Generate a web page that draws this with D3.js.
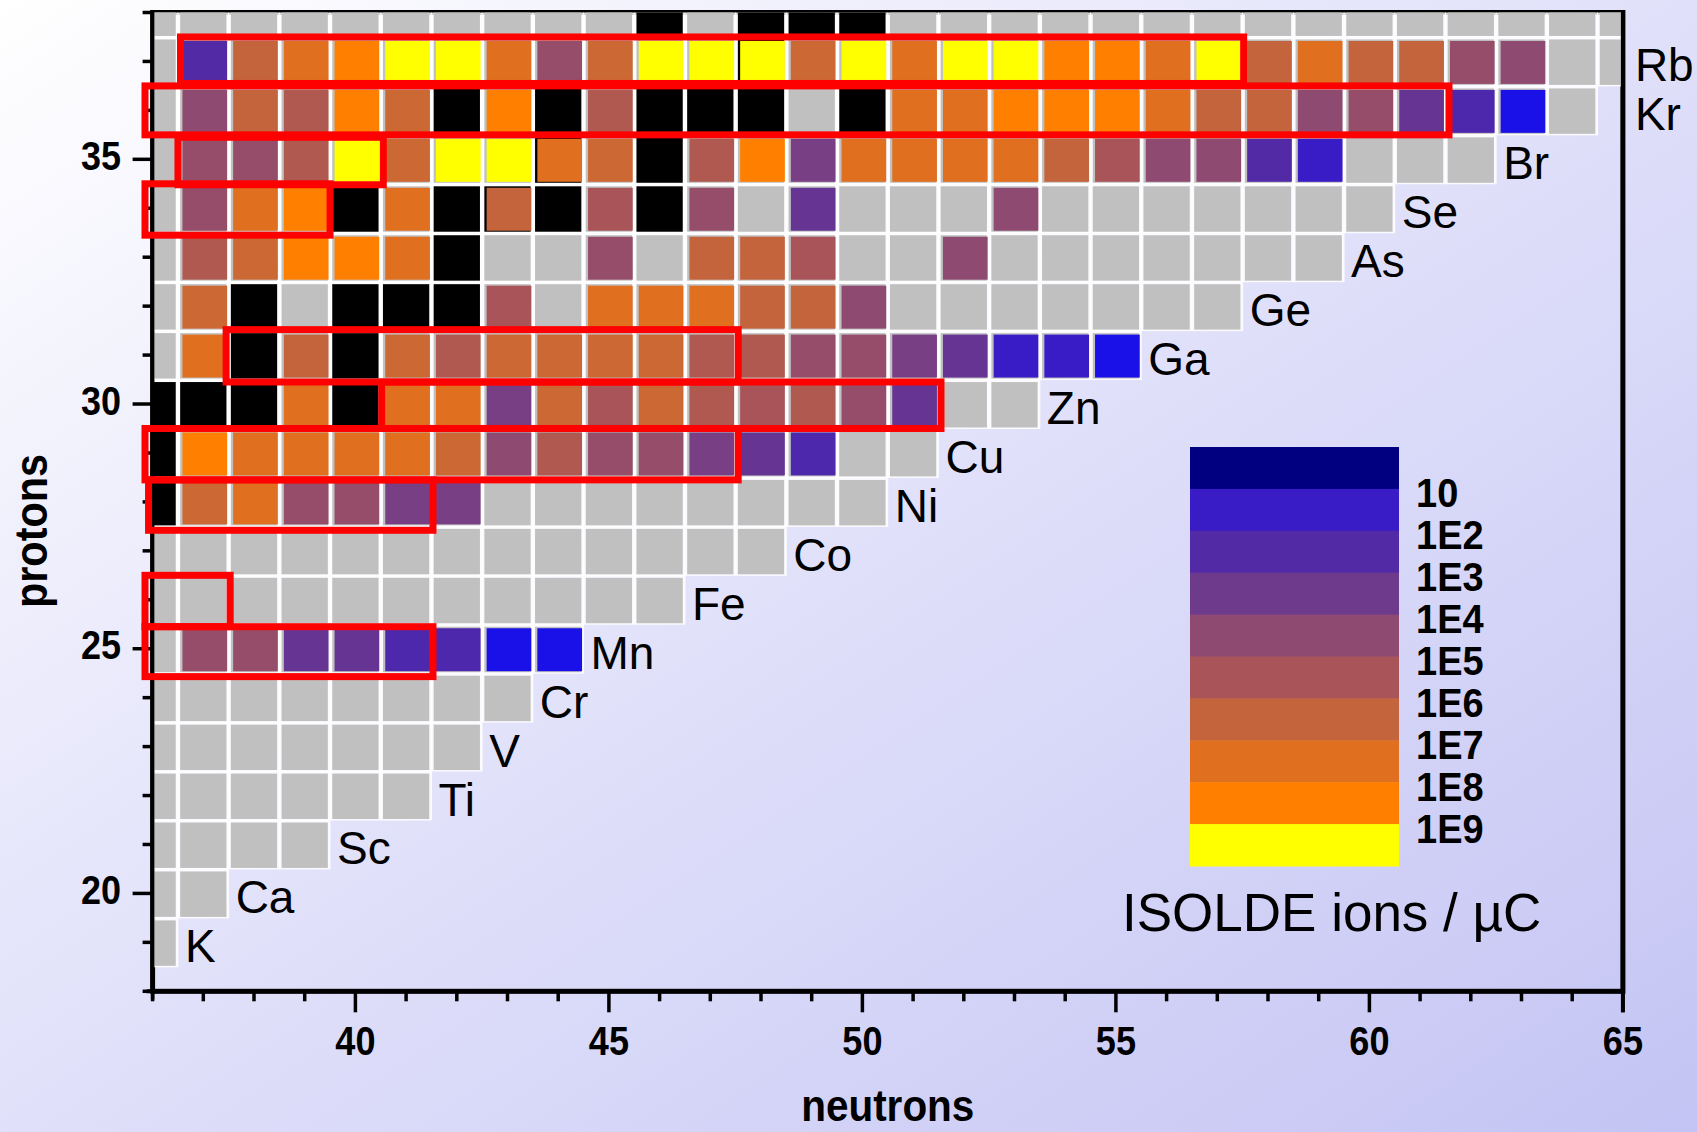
<!DOCTYPE html>
<html lang="en">
<head>
<meta charset="utf-8">
<title>ISOLDE yields</title>
<script src="https://cdn.jsdelivr.net/npm/d3@7"></script>
<style>
  html, body { margin: 0; padding: 0; }
  body { width: 1697px; height: 1132px; overflow: hidden; }
  text { font-family: "Liberation Sans", Arial, sans-serif; }
</style>
</head>
<body>
<script>

// rows of the chart, Z = 19 (K) up to Z = 38 (Sr)
var firstZ = 19;
var symbols = ["K","Ca","Sc","Ti","V","Cr","Mn","Fe","Co","Ni","Cu","Zn","Ga","Ge","As","Se","Br","Kr","Rb","Sr"];
// every row starts at N = 36, this is the last neutron number of each row
var lastN = [36,37,39,41,42,43,44,46,48,50,51,53,55,57,59,60,62,64,65,65];

// stable isotopes as [Z, N]
var stable = [
	[38,46],[38,48],[38,49],[38,50],[37,48],
	[36,42],[36,44],[36,46],[36,47],[36,48],[36,50],
	[35,44],[35,46],
	[34,40],[34,42],[34,43],[34,44],[34,46],
	[33,42],
	[32,38],[32,40],[32,41],[32,42],
	[31,38],[31,40],
	[30,36],[30,37],[30,38],[30,40],
	[29,36],[28,36]
];

// log10(ISOLDE ions / uC), one list per row starting at N = 36, null = no yield
var yieldRows = [
	[], // K
	[], // Ca
	[], // Sc
	[], // Ti
	[], // V
	[], // Cr
	[null,4.8,4.8,3.2,3.2,2.3,2.3,1.0,1.0], // Mn
	[], // Fe
	[], // Co
	[null,6.8,7.5,4.8,4.8,3.8,3.8], // Ni
	[null,8.5,7.5,7.5,7.5,7.5,6.8,4.5,5.8,4.8,4.8,3.8,3.2,2.3], // Cu
	[null,null,null,7.5,null,7.5,7.5,3.8,6.8,5.5,6.8,5.8,5.5,5.8,4.8,3.2], // Zn
	[null,7.5,null,6.5,null,6.8,5.8,6.8,6.8,6.8,6.8,5.8,5.8,4.8,4.8,3.8,3.2,1.5,1.5,1.0], // Ga
	[null,6.8,null,null,null,null,null,5.5,null,7.5,7.5,7.5,6.5,6.5,4.5], // Ge
	[null,5.8,6.8,8.5,8.5,7.5,null,null,null,4.8,null,6.5,6.5,5.5,null,null,4.5], // As
	[null,4.8,7.5,8.5,null,7.5,null,6.5,null,5.5,null,4.8,null,3.2,null,null,null,4.5], // Se
	[null,4.8,4.8,5.8,9.5,6.8,9.5,9.5,7.5,6.8,null,5.8,8.5,3.8,7.5,7.5,7.5,7.5,6.5,5.5,4.5,4.5,2.5,1.5], // Br
	[null,4.5,6.5,5.8,8.5,6.8,null,8.5,null,5.8,null,null,null,null,null,7.5,7.5,8.5,8.5,8.5,7.5,6.5,6.5,4.5,4.8,3.2,2.3,1.0], // Kr
	[null,2.5,6.5,7.5,8.5,9.5,9.5,7.5,4.8,6.8,9.5,9.5,9.5,6.8,9.5,7.5,9.5,9.5,8.5,8.5,7.5,9.5,6.5,7.5,6.5,6.5,4.8,4.5], // Rb
	[] // Sr
];

// red boxes, [N from, N to, Z from, Z to]
var boxes = [
	[36.55, 57.52, 36.55, 37.5],
	[35.85, 61.57, 35.5, 36.5],
	[36.5, 40.55, 34.48, 35.45],
	[35.85, 39.5, 33.45, 34.5],
	[37.45, 47.55, 30.45, 31.52],
	[40.52, 51.55, 29.5, 30.45],
	[35.85, 47.55, 28.45, 29.5],
	[35.92, 41.53, 27.42, 28.45],
	[35.85, 37.53, 25.45, 26.5],
	[35.85, 41.53, 24.43, 25.45]
];

var legendLabels = ["10","1E2","1E3","1E4","1E5","1E6","1E7","1E8","1E9"];
var legendTitle = "ISOLDE ions / \u00B5C";
var xTicks = d3.range(36, 66);
var yTicks = d3.range(18, 39);

var w = 1697, h = 1132;

var x = d3.scaleLinear().domain([36, 65]).range([152.6, 1622.9]);
var y = d3.scaleLinear().domain([18, 38]).range([991.3, 12.5]);

var color = d3.scaleLinear()
	.domain([0.5, 1, 1.5, 2.5, 3.5, 4.5, 5.5, 6.5, 7.5, 8.5, 9.5])
	.range(["#000080","#1a10e8","#391cc6","#522aa6","#6e3a8c","#8e4a70","#a85458","#c4643c","#e07020","#ff8000","#ffff00"])
	.clamp(true);

function isStable(z, n){
	return stable.some(function(s){ return s[0] == z && s[1] == n; });
}

// build the cell list
var cells = [];
symbols.forEach(function(sym, i){
	var z = firstZ + i;
	for(var n = 36; n <= lastN[i]; n++){
		var v = yieldRows[i][n - 36];
		cells.push({ z: z, n: n, stable: isStable(z, n), value: (v == null ? null : v) });
	}
});

var svg = d3.select("body").append("svg")
	.attr("width", w).attr("height", h);

// background
var defs = svg.append("defs");
var grad = defs.append("linearGradient").attr("id", "bg")
	.attr("x1", 0).attr("y1", 0).attr("x2", 1).attr("y2", 1);
grad.append("stop").attr("offset", "0%").attr("stop-color", "#ffffff");
grad.append("stop").attr("offset", "50%").attr("stop-color", "#e0e0fa");
grad.append("stop").attr("offset", "100%").attr("stop-color", "#c4c4f4");
svg.append("rect").attr("width", w).attr("height", h).attr("fill", "url(#bg)");

defs.append("clipPath").attr("id", "plot")
	.append("rect")
	.attr("x", x(36)).attr("y", y(38))
	.attr("width", x(65) - x(36)).attr("height", y(18) - y(38));

// frame, drawn under the cells
svg.append("rect")
	.attr("x", x(36)).attr("y", y(38))
	.attr("width", x(65) - x(36)).attr("height", y(18) - y(38))
	.attr("fill", "none").attr("stroke", "#000").attr("stroke-width", 5);

var cw = x(1) - x(0);
var ch = y(0) - y(1);
var g = svg.append("g").attr("clip-path", "url(#plot)");

// white grid under the cells
g.selectAll("rect.under").data(cells).enter().append("rect")
	.attr("class", "under")
	.attr("x", function(d){ return x(d.n - 0.5) - 0.5; })
	.attr("y", function(d){ return y(d.z + 0.5) - 0.5; })
	.attr("width", cw + 1).attr("height", ch + 1)
	.attr("fill", "#ffffff").attr("fill-opacity", 0.85);

g.selectAll("rect.base").data(cells).enter().append("rect")
	.attr("class", "base")
	.attr("x", function(d){ return x(d.n - 0.5) + 2.2; })
	.attr("y", function(d){ return y(d.z + 0.5) + 2.5; })
	.attr("width", cw - 4.4).attr("height", ch - 3.5)
	.attr("fill", function(d){ return d.stable ? "#000000" : "#c0c0c0"; });

g.selectAll("rect.yield").data(cells.filter(function(d){ return d.value != null; })).enter().append("rect")
	.attr("class", "yield")
	.attr("x", function(d){ return x(d.n - 0.5) + 4.5; })
	.attr("y", function(d){ return y(d.z + 0.5) + 4; })
	.attr("width", cw - 6).attr("height", ch - 6)
	.attr("fill", function(d){ return color(d.value); });

// ticks
svg.selectAll("line.yt").data(yTicks).enter().append("line")
	.attr("x1", function(d){ return x(36) - (d % 5 == 0 ? 20 : 10); })
	.attr("x2", x(36))
	.attr("y1", function(d){ return y(d); }).attr("y2", function(d){ return y(d); })
	.attr("stroke", "#000").attr("stroke-width", 3.5);

svg.selectAll("line.xt").data(xTicks).enter().append("line")
	.attr("x1", function(d){ return x(d); }).attr("x2", function(d){ return x(d); })
	.attr("y1", y(18))
	.attr("y2", function(d){ return y(18) + (d % 5 == 0 ? 21 : 10); })
	.attr("stroke", "#000").attr("stroke-width", 3.5);

// axis lines on top
svg.append("line").attr("x1", x(36)).attr("x2", x(36)).attr("y1", y(38) - 2).attr("y2", y(18) + 8)
	.attr("stroke", "#000").attr("stroke-width", 3.5);
svg.append("line").attr("x1", x(36) - 6).attr("x2", x(65) + 2).attr("y1", y(18)).attr("y2", y(18))
	.attr("stroke", "#000").attr("stroke-width", 4);
svg.append("line").attr("x1", x(65)).attr("x2", x(65)).attr("y1", y(38) - 2).attr("y2", y(18) + 21)
	.attr("stroke", "#000").attr("stroke-width", 4);

// tick labels
svg.selectAll("text.yl").data(yTicks.filter(function(d){ return d % 5 == 0; })).enter().append("text")
	.attr("transform", function(d){ return "translate(121," + (y(d) + 10.5) + ") scale(0.9,1)"; })
	.attr("text-anchor", "end")
	.attr("font-size", 40).attr("font-weight", "bold")
	.text(function(d){ return d; });

svg.selectAll("text.xl").data(xTicks.filter(function(d){ return d % 5 == 0 && d > 36; })).enter().append("text")
	.attr("transform", function(d){ return "translate(" + x(d) + ",1055) scale(0.88,1)"; })
	.attr("text-anchor", "middle")
	.attr("font-size", 41).attr("font-weight", "bold")
	.text(function(d){ return d; });

// axis titles
svg.append("text")
	.attr("transform", "translate(" + ((x(36) + x(65)) / 2) + ",1121) scale(0.9,1)")
	.attr("text-anchor", "middle").attr("font-size", 45).attr("font-weight", "bold")
	.text("neutrons");
svg.append("text")
	.attr("transform", "translate(46.5,531) rotate(-90) scale(0.9,1)")
	.attr("text-anchor", "middle").attr("font-size", 46).attr("font-weight", "bold")
	.text("protons");

// red boxes
svg.selectAll("rect.box").data(boxes).enter().append("rect")
	.attr("x", function(d){ return x(d[0]); })
	.attr("y", function(d){ return y(d[3]); })
	.attr("width", function(d){ return x(d[1]) - x(d[0]); })
	.attr("height", function(d){ return y(d[2]) - y(d[3]); })
	.attr("fill", "none").attr("stroke", "#ff0000").attr("stroke-width", 7);

// element labels
svg.selectAll("text.el").data(symbols.slice(0, symbols.length - 1)).enter().append("text")
	.attr("x", function(d, i){
		var last = lastN[i];
		return last >= 65 || d == "Kr" ? x(65) + 12 : x(last + 0.5) + 7;
	})
	.attr("y", function(d, i){ return y(firstZ + i) + 20; })
	.attr("font-size", 46)
	.text(function(d){ return d; });

// legend
var ly = d3.scaleLinear().domain([0, 10]).range([447, 866]);
svg.selectAll("rect.leg").data(d3.range(10)).enter().append("rect")
	.attr("x", 1190).attr("width", 209)
	.attr("y", function(d){ return ly(d); })
	.attr("height", ly(1) - ly(0) + 0.5)
	.attr("fill", function(d){ return color(d + 0.5); });

svg.selectAll("text.leg").data(legendLabels).enter().append("text")
	.attr("transform", function(d, i){ return "translate(1416," + (ly(i + 1) + 18.5) + ") scale(0.95,1)"; })
	.attr("font-size", 40).attr("font-weight", "bold")
	.text(function(d){ return d; });

svg.append("text")
	.attr("x", 1122).attr("y", 931)
	.attr("font-size", 53)
	.text(legendTitle);

</script>
</body>
</html>
